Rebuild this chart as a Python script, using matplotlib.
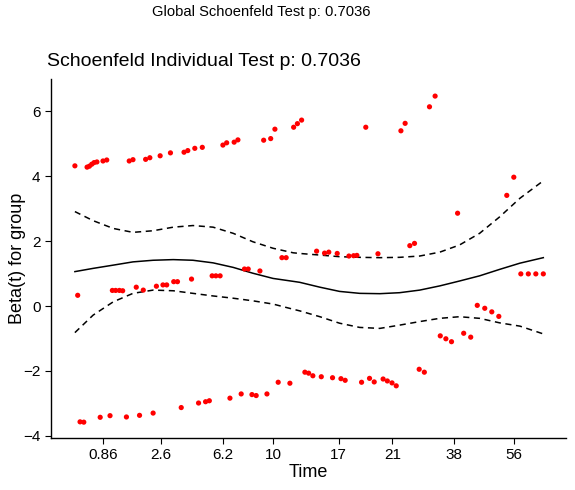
import matplotlib
matplotlib.use("Agg")
from matplotlib import pyplot as plt

plt.rcParams['font.family'] = ['Liberation Sans', 'DejaVu Sans']

# transformed (KM) time of each residual and its beta(t) value
res_time = [
    0.000, 0.026, 0.031, 0.036, 0.041, 0.047, 0.060, 0.068, 0.116, 0.124,
    0.151, 0.160, 0.182, 0.204, 0.233, 0.241, 0.256, 0.272, 0.316, 0.324,
    0.340, 0.348, 0.403, 0.418, 0.427, 0.467, 0.475, 0.484, 0.621, 0.696,
    0.705, 0.757, 0.769, 0.817, 0.922, 0.937,
    0.006, 0.080, 0.087, 0.095, 0.102, 0.131, 0.146, 0.174, 0.188, 0.196,
    0.211, 0.219, 0.249, 0.293, 0.301, 0.310, 0.362, 0.370, 0.395, 0.442,
    0.451, 0.516, 0.533, 0.542, 0.560, 0.585, 0.595, 0.602, 0.647, 0.715,
    0.725, 0.952, 0.968, 0.984, 1.000, 0.859, 0.875, 0.890, 0.905, 0.780,
    0.792, 0.804, 0.830, 0.845,
    0.011, 0.019, 0.054, 0.075, 0.110, 0.138, 0.167, 0.227, 0.264, 0.279,
    0.287, 0.331, 0.355, 0.378, 0.387, 0.410, 0.434, 0.459, 0.491, 0.499,
    0.508, 0.526, 0.550, 0.568, 0.577, 0.612, 0.629, 0.639, 0.658, 0.667,
    0.677, 0.686, 0.735, 0.746,
]
res_beta = [
    4.32, 4.28, 4.31, 4.37, 4.42, 4.44, 4.47, 4.50, 4.47, 4.51,
    4.52, 4.57, 4.63, 4.72, 4.74, 4.79, 4.86, 4.89, 4.96, 5.03,
    5.05, 5.12, 5.11, 5.16, 5.45, 5.51, 5.62, 5.73, 5.51, 5.40,
    5.63, 6.14, 6.47, 2.86, 3.41, 3.97,
    0.33, 0.48, 0.48, 0.48, 0.47, 0.58, 0.49, 0.61, 0.65, 0.65,
    0.75, 0.75, 0.83, 0.93, 0.93, 0.93, 1.14, 1.14, 1.08, 1.49,
    1.49, 1.69, 1.63, 1.66, 1.62, 1.54, 1.55, 1.56, 1.61, 1.86,
    1.93, 0.99, 0.99, 0.99, 0.99, 0.02, -0.07, -0.18, -0.32, -0.92,
    -1.01, -1.10, -0.84, -0.96,
    -3.57, -3.58, -3.43, -3.38, -3.42, -3.37, -3.30, -3.13, -2.99, -2.95,
    -2.92, -2.84, -2.71, -2.73, -2.76, -2.71, -2.35, -2.38, -2.04, -2.07,
    -2.15, -2.18, -2.21, -2.24, -2.29, -2.35, -2.23, -2.34, -2.25, -2.31,
    -2.37, -2.46, -1.95, -2.04,
]

# smoothed beta(t) with its confidence band, on a common time grid
fit_time = [0.000, 0.039, 0.082, 0.124, 0.167, 0.210, 0.252, 0.295, 0.338,
            0.380, 0.423, 0.466, 0.480, 0.523, 0.565, 0.608, 0.651, 0.693,
            0.736, 0.779, 0.821, 0.864, 0.907, 0.950, 1.000]
fit_beta = [1.06, 1.16, 1.26, 1.36, 1.41, 1.43, 1.41, 1.33, 1.19,
            1.01, 0.85, 0.76, 0.73, 0.58, 0.45, 0.39, 0.38, 0.41,
            0.49, 0.62, 0.77, 0.93, 1.13, 1.32, 1.49]
upper_beta = [2.91, 2.63, 2.39, 2.27, 2.32, 2.43, 2.48, 2.43, 2.24,
              1.98, 1.78, 1.64, 1.62, 1.57, 1.52, 1.50, 1.49, 1.50,
              1.54, 1.66, 1.88, 2.24, 2.75, 3.32, 3.86]
lower_beta = [-0.82, -0.28, 0.13, 0.39, 0.49, 0.47, 0.39, 0.31, 0.24,
              0.16, 0.06, -0.10, -0.15, -0.33, -0.53, -0.66, -0.69, -0.59,
              -0.48, -0.38, -0.33, -0.38, -0.52, -0.62, -0.86]

tick_pos = [0.060, 0.183, 0.316, 0.423, 0.563, 0.678, 0.809, 0.937]
tick_labels = ['0.86', '2.6', '6.2', '10', '17', '21', '38', '56']

fig = plt.figure(figsize=(5.75, 4.9), dpi=100)
ax = fig.add_axes([0.0887, 0.106, 0.8953, 0.733])

ax.plot(fit_time, fit_beta, c='black', lw=1.1)
ax.plot(fit_time, upper_beta, c='black', lw=1.1, ls=(0, (4, 3)))
ax.plot(fit_time, lower_beta, c='black', lw=1.1, ls=(0, (4, 3)))
ax.scatter(res_time, res_beta, s=14, c='#FF0000', edgecolors='none', zorder=3)

ax.set_xlim(-0.051, 1.048)
ax.set_ylim(-4.07, 7.0)
ax.set_xticks(tick_pos)
ax.set_xticklabels(tick_labels)
ax.set_yticks([-4, -2, 0, 2, 4, 6])
ax.tick_params(labelsize=11, colors='black', length=4, width=0.8)
for side in ['top', 'right']:
    ax.spines[side].set_visible(False)
for side in ['left', 'bottom']:
    ax.spines[side].set_linewidth(1.0)

ax.set_xlabel("Time", fontsize=13, labelpad=1)
ax.set_ylabel("Beta(t) for group", fontsize=13, labelpad=-2)
ax.set_title("Schoenfeld Individual Test p: 0.7036", fontsize=14,
             loc='left', x=-0.007, pad=9)
fig.text(261 / 575, 1 - 12 / 490, "Global Schoenfeld Test p: 0.7036",
         fontsize=10.6, ha='center', va='center')

plt.savefig("out.png", dpi=100)
